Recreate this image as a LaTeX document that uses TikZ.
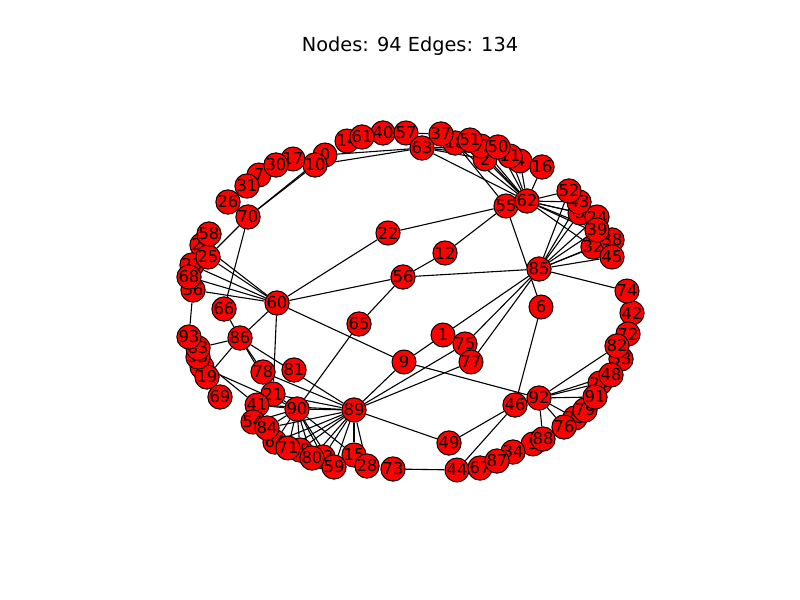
\documentclass[tikz,border=0pt]{standalone}
\usepackage{fontspec}
\setmainfont{DejaVu Sans}
\pgfdeclarelayer{bg}
\pgfdeclarelayer{edgelayer}
\pgfsetlayers{bg,edgelayer,main}
\begin{document}
\begin{tikzpicture}[x=0.3mm,y=-0.3mm,
  vx/.style={circle,draw=black,line width=0.3mm,fill=red,minimum size=7.2mm,inner sep=0pt,font=\fontsize{14}{14}\selectfont},
  edge/.style={draw=black,line width=0.33mm}]
\begin{pgfonlayer}{bg}
\fill[white] (0,0) rectangle (800,600);
\end{pgfonlayer}
\useasboundingbox (0,0) rectangle (800,600);
\node[font=\fontsize{16.5}{16.5}\selectfont] (title) at (410,46) {Nodes: 94 Edges: 134};
\foreach \i/\x/\y in {
0/325/155, 1/443/335, 2/485/159, 3/580/213, 4/520/161, 5/533/444, 6/541/307, 7/259/175,
8/202/367, 9/404/362, 10/315/165, 11/510/156, 12/445/253, 13/323/457, 14/347/141, 15/354/455,
16/542/167, 17/293/159, 18/455/143, 19/207/377, 20/202/245, 21/273/394, 22/388/233, 23/192/265,
24/597/217, 25/208/257, 26/228/202, 27/600/383, 28/367/466, 29/300/450, 30/276/165, 31/247/186,
32/593/247, 33/621/359, 34/513/452, 35/575/418, 36/193/290, 37/441/134, 38/612/240, 39/597/230,
40/383/133, 41/257/405, 42/632/313, 43/579/202, 44/457/470, 45/612/257, 46/515/405, 47/481/146,
48/611/375, 49/449/443, 50/498/147, 51/470/140, 52/569/191, 53/198/357, 54/253/422, 55/506/206,
56/403/277, 57/406/133, 58/209/234, 59/334/467, 60/277/303, 61/362/137, 62/527/201, 63/422/148,
64/275/442, 65/359/324, 66/224/309, 67/480/468, 68/189/277, 69/220/397, 70/248/217, 71/288/448,
72/628/334, 73/393/469, 74/627/291, 75/465/344, 76/564/427, 77/471/362, 78/263/372, 79/585/410,
80/312/458, 81/294/370, 82/617/346, 83/198/348, 84/267/428, 85/539/269, 86/240/338, 87/497/461,
88/543/439, 89/354/410, 90/297/409, 91/595/397, 92/539/398, 93/189/337}
  \node[vx] (n\i) at (\x,\y) {\i};
\begin{pgfonlayer}{edgelayer}
\foreach \a/\b in {
62/16, 62/4, 62/11, 62/50, 62/2, 62/47, 62/51, 62/37,
0/63, 10/63, 63/62, 63/2, 63/11, 63/47, 63/50,
57/37, 18/55,
62/52, 62/43, 62/3, 62/24, 62/39, 62/38, 62/32,
85/52, 85/43, 85/3, 85/24, 85/39, 85/38, 85/32, 85/45,
85/74, 85/56, 85/1, 85/75, 85/77,
55/62, 55/22, 55/12, 55/6,
56/60, 56/12, 56/65, 65/90, 22/60, 60/9, 9/92, 9/89, 9/1,
89/75, 89/77, 89/49, 89/90, 89/84, 89/64, 89/71, 89/29, 89/80, 89/13, 89/59, 89/15, 89/28, 89/78, 89/21, 89/41,
90/41, 90/84, 90/64, 90/71, 90/29, 90/80, 90/13, 90/59, 90/21, 90/54, 90/15,
70/10, 70/0, 70/25, 70/66, 60/20, 60/25, 60/23, 60/68, 60/36, 93/36,
86/83, 86/19, 86/60, 86/66, 86/78, 86/21, 86/89, 60/21, 53/41, 8/90,
46/49, 46/44, 44/73, 6/46, 92/88, 92/76, 92/35, 92/91, 92/27, 92/48, 92/82}
  \draw[edge] (n\a) -- (n\b);
\end{pgfonlayer}
\end{tikzpicture}
\end{document}
